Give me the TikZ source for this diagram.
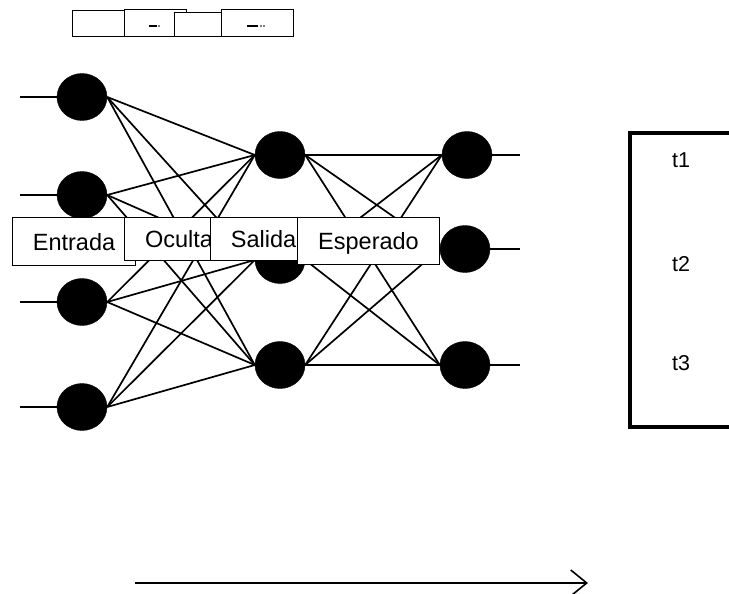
\documentclass[tikz,border=0pt]{standalone}
\usepackage{fontspec}
\setmainfont{Liberation Sans}
\usetikzlibrary{shapes.geometric,arrows.meta}
\begin{document}
\begin{tikzpicture}[x=1pt,y=-1pt,
  neuron/.style={ellipse,fill=black,draw=black,minimum width=50pt,minimum height=47pt,inner sep=0pt},
  conn/.style={line width=1.7pt},
  lbl/.style={draw=black,fill=white,line width=1pt,anchor=north west,inner sep=0pt,text depth=0pt,
     font=\fontsize{23.5}{26}\selectfont},
  tbox/.style={draw=black,fill=white,line width=1pt,anchor=north west,inner sep=0pt},
  tlab/.style={font=\fontsize{21.5}{24}\selectfont}]
\useasboundingbox (0,0) rectangle (729,594);
\clip (0,0) rectangle (729,594);
% top boxes
\node[tbox,minimum width=53pt,minimum height=26pt] (ba) at (72,10) {};
\node[tbox,minimum width=62pt,minimum height=27pt] (bb) at (124,9) {};
\node[tbox,minimum width=60pt,minimum height=24pt] (bc) at (174,12) {};
\node[tbox,minimum width=72pt,minimum height=27pt] (bd) at (221,9) {};
\draw[line width=1.2pt] (149,26) -- (157,26);
\fill (159,26) circle (0.8pt);
\draw[line width=1.2pt] (247,26) -- (258,26);
\fill (261,26) circle (0.8pt);
\fill (264,26) circle (0.8pt);
% neurons
\node[neuron] (i1) at (82,97) {};
\node[neuron] (i2) at (82,195) {};
\node[neuron] (i3) at (82,302) {};
\node[neuron] (i4) at (82,407) {};
\node[neuron] (h1) at (280,155) {};
\node[neuron] (h2) at (280,260) {};
\node[neuron] (h3) at (280,365) {};
\node[neuron] (o1) at (467,155) {};
\node[neuron] (o2) at (465,249) {};
\node[neuron] (o3) at (465,365) {};
\coordinate (a1) at (20,97);
\coordinate (a2) at (20,195);
\coordinate (a3) at (20,302);
\coordinate (a4) at (20,407);
\coordinate (e1) at (520,155);
\coordinate (e2) at (520,249);
\coordinate (e3) at (520,365);
\foreach \k in {1,2,3,4} \draw[conn] (a\k) -- (i\k.west);
\foreach \k in {1,2,3} \draw[conn] (o\k.east) -- (e\k);
\foreach \i in {1,2,3,4} \foreach \h in {1,2,3} \draw[conn] (i\i.east) -- (h\h.west);
\foreach \h in {1,2,3} \foreach \o in {1,2,3} \draw[conn] (h\h.east) -- (o\o.west);
% labels
\node[lbl,minimum width=123pt,minimum height=48pt] (ent) at (12,217) {Entrada};
\node[lbl,minimum width=109pt,minimum height=43pt] (ocu) at (124,217) {Oculta};
\node[lbl,minimum width=106pt,minimum height=43pt] (sal) at (210,217) {Salida};
\node[lbl,minimum width=142pt,minimum height=47pt] (esp) at (297,217) {Esperado};
% right box
\draw[line width=4.5pt] (780,133) -- (630,133) -- (630,427) -- (780,427);
\node[tlab] (t1) at (681,160) {t1};
\node[tlab] (t2) at (681,264) {t2};
\node[tlab] (t3) at (681,363) {t3};
% bottom arrow
\coordinate (s) at (135,583);
\coordinate (f) at (588,583);
\draw[line width=1.6pt,-{Straight Barb[length=16pt,width=26pt,line width=1.6pt]}] (s) -- (f);
\end{tikzpicture}
\end{document}
